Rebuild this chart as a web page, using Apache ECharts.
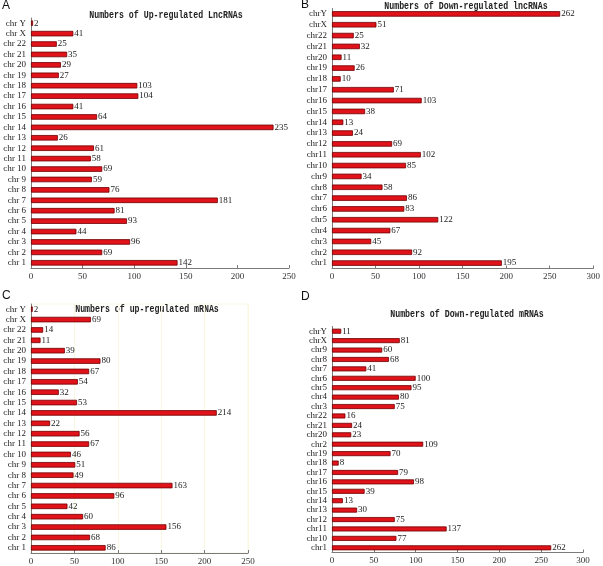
<!DOCTYPE html>
<html>
<head>
<meta charset="utf-8">
<script src="https://cdn.jsdelivr.net/npm/echarts@6/dist/echarts.min.js"></script>
<style>html,body{margin:0;padding:0;background:#fff}#c{width:603px;height:566px}</style>
</head>
<body>
<div id="c"></div>
<script>
// Panel A: Up-regulated LncRNAs (bottom to top)
var catsA = ['chr 1','chr 2','chr 3','chr 4','chr 5','chr 6','chr 7','chr 8','chr 9','chr 10','chr 11','chr 12','chr 13','chr 14','chr 15','chr 16','chr 17','chr 18','chr 19','chr 20','chr 21','chr 22','chr X','chr Y'];
var valsA = [142,69,96,44,93,81,181,76,59,69,58,61,26,235,64,41,104,103,27,29,35,25,41,2];
// Panel B: Down-regulated lncRNAs
var catsB = ['chr1','chr2','chr3','chr4','chr5','chr6','chr7','chr8','chr9','chr10','chr11','chr12','chr13','chr14','chr15','chr16','chr17','chr18','chr19','chr20','chr21','chr22','chrX','chrY'];
var valsB = [195,92,45,67,122,83,86,58,34,85,102,69,24,13,38,103,71,10,26,11,32,25,51,262];
// Panel C: up-regulated mRNAs
var catsC = ['chr 1','chr 2','chr 3','chr 4','chr 5','chr 6','chr 7','chr 8','chr 9','chr 10','chr 11','chr 12','chr 13','chr 14','chr 15','chr 16','chr 17','chr 18','chr 19','chr 20','chr 21','chr 22','chr X','chr Y'];
var valsC = [86,68,156,60,42,96,163,49,51,46,67,56,22,214,53,32,54,67,80,39,11,14,69,2];
// Panel D: Down-regulated mRNAs
var catsD = ['chr1','chr10','chr11','chr12','chr13','chr14','chr15','chr16','chr17','chr18','chr19','chr2','chr20','chr21','chr22','chr3','chr4','chr5','chr6','chr7','chr8','chr9','chrX','chrY'];
var valsD = [262,77,137,75,30,13,39,98,79,8,70,109,23,24,16,75,80,95,100,41,68,60,81,11];

var titles = ['Numbers of Up-regulated LncRNAs','Numbers of Down-regulated lncRNAs','Numbers of up-regulated mRNAs','Numbers of Down-regulated mRNAs'];
var panelLetters = ['A','B','C','D'];
var xMax = [250,300,250,300];

var grids = [
  {left:31, top:18, width:258, height:250},
  {left:332, top:8.5, width:264, height:260},
  {left:31, top:304, width:217, height:252},
  {left:332, top:326.5, width:251, height:226}
];
var titlePos = [[166,15],[466,6],[147,309],[467,314]];
var letterPos = [[2,6],[301,5],[2,296],[301,297]];

var cats = [catsA,catsB,catsC,catsD];
var vals = [valsA,valsB,valsC,valsD];
var serif = 'Liberation Serif';

var option = {
  animation:false,
  backgroundColor:'#fff',
  grid: grids.map(function(g,i){
    var o = Object.assign({containLabel:false}, g);
    if(i===2){ o.show = true; o.borderColor = '#faf7e0'; o.borderWidth = 1; o.backgroundColor='transparent'; }
    return o;
  }),
  xAxis: xMax.map(function(m,i){
    return {
      type:'value', gridIndex:i, min:0, max:m, interval:50,
      axisLine:{show:true, lineStyle:{color:'#7a7a7a', width:1}},
      axisTick:{show:true, inside:true, length:3, lineStyle:{color:'#7a7a7a'}},
      axisLabel:{fontFamily:serif, fontSize:9, color:'#333', margin:4},
      splitLine:{show:i===2, lineStyle:{color:'#faf7e0', width:1}}
    };
  }),
  yAxis: cats.map(function(c,i){
    return {
      type:'category', gridIndex:i, data:c,
      axisLine:{show:true, lineStyle:{color:'#7a7a7a', width:1}},
      axisTick:{show:false},
      axisLabel:{fontFamily:serif, fontSize:9, color:'#222', margin:5, interval:0},
      splitLine:{show:false}
    };
  }),
  series: vals.map(function(v,i){
    return {
      type:'bar', xAxisIndex:i, yAxisIndex:i, data:v,
      barWidth: i===3 ? 5 : 5.5,
      itemStyle:{color:'#e0121a', borderColor:'#6e0000', borderWidth:0.8},
      label:{show:true, position:'right', distance:1, fontFamily:serif, fontSize:9, color:'#222'}
    };
  }),
  graphic: []
};

titles.forEach(function(t,i){
  option.graphic.push({
    type:'text', x:titlePos[i][0], y:titlePos[i][1], scaleX:0.75, scaleY:1,
    style:{text:t, font:'bold 11px "Liberation Mono"', fill:'#222', textAlign:'center', textVerticalAlign:'middle'}
  });
  option.graphic.push({
    type:'text', x:letterPos[i][0], y:letterPos[i][1],
    style:{text:panelLetters[i], font:'12px "Liberation Sans"', fill:'#111', textAlign:'left', textVerticalAlign:'middle'}
  });
});

var chart = echarts.init(document.getElementById('c'), null, {renderer:'canvas'});
chart.setOption(option);
</script>
</body>
</html>
